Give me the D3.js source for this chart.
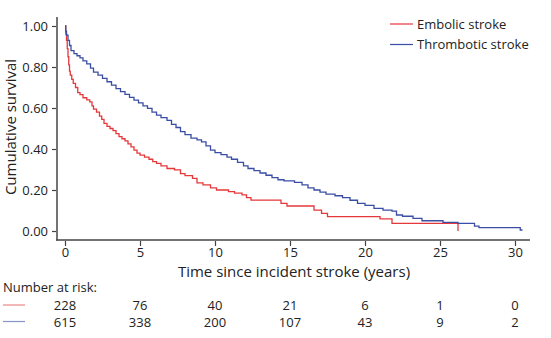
<!DOCTYPE html>
<meta charset="utf-8">
<script src="https://d3js.org/d3.v7.min.js"></script>
<style>
  body { margin: 0; background: #fff; }
  text { font-family: "Open Sans", "Noto Sans", sans-serif; fill: #222; }
</style>
<body>
<div id="km"></div>
<script>
// Kaplan-Meier survival after incident stroke, by stroke type
var groups = ["Embolic stroke", "Thrombotic stroke"]
var colors = ["#e5383b", "#3a4ea3"]

// step points: [years, cumulative survival]
var embolic = [
  [0, 1.0], [0.05, 0.96], [0.1, 0.93], [0.15, 0.89], [0.2, 0.85], [0.25, 0.81],
  [0.3, 0.78], [0.35, 0.76], [0.45, 0.74], [0.55, 0.72], [0.7, 0.70], [0.85, 0.675],
  [1.0, 0.665], [1.2, 0.65], [1.45, 0.64], [1.65, 0.63], [1.8, 0.61], [1.9, 0.595],
  [2.1, 0.58], [2.3, 0.56], [2.45, 0.545], [2.6, 0.525], [2.8, 0.51], [3.0, 0.50],
  [3.2, 0.49], [3.4, 0.475], [3.6, 0.46], [3.8, 0.45], [4.0, 0.44], [4.2, 0.425],
  [4.4, 0.41], [4.6, 0.395], [4.8, 0.38], [5.0, 0.37], [5.3, 0.36], [5.6, 0.35],
  [5.85, 0.338], [6.1, 0.33], [6.4, 0.318], [6.8, 0.305], [7.3, 0.298], [7.7, 0.28],
  [8.0, 0.27], [8.5, 0.257], [8.8, 0.235], [9.2, 0.225], [9.7, 0.21], [10.1, 0.2],
  [10.9, 0.192], [11.3, 0.185], [11.8, 0.176], [12.1, 0.163], [12.4, 0.151],
  [14.4, 0.135], [14.8, 0.122], [16.6, 0.102], [17.1, 0.086], [17.5, 0.07],
  [21.0, 0.059], [21.8, 0.037], [26.2, 0]
]
var thrombotic = [
  [0, 1.0], [0.05, 0.975], [0.1, 0.955], [0.2, 0.93], [0.3, 0.905], [0.4, 0.88],
  [0.6, 0.865], [0.8, 0.855], [1.0, 0.845], [1.2, 0.83], [1.45, 0.815], [1.7, 0.795],
  [1.9, 0.775], [2.2, 0.76], [2.5, 0.745], [2.8, 0.728], [3.1, 0.712], [3.4, 0.695],
  [3.7, 0.68], [4.0, 0.666], [4.3, 0.652], [4.6, 0.638], [4.9, 0.625], [5.2, 0.61],
  [5.5, 0.598], [5.8, 0.58], [6.1, 0.565], [6.4, 0.553], [6.8, 0.54], [7.1, 0.52],
  [7.4, 0.505], [7.7, 0.485], [8.0, 0.47], [8.4, 0.453], [8.8, 0.445], [9.1, 0.435],
  [9.4, 0.415], [9.7, 0.395], [10.0, 0.382], [10.4, 0.373], [10.8, 0.36], [11.1, 0.35],
  [11.5, 0.335], [11.9, 0.318], [12.2, 0.305], [12.6, 0.295], [13.0, 0.283], [13.4, 0.272],
  [13.8, 0.26], [14.2, 0.25], [14.6, 0.245], [15.3, 0.237], [15.8, 0.225], [16.2, 0.21],
  [16.6, 0.2], [17.0, 0.19], [17.4, 0.18], [18.0, 0.172], [18.5, 0.163], [19.0, 0.15],
  [19.5, 0.135], [20.0, 0.125], [20.6, 0.11], [21.2, 0.102], [21.8, 0.097], [22.1, 0.078],
  [22.5, 0.072], [23.2, 0.062], [23.8, 0.05], [25.2, 0.042], [26.2, 0.037], [27.3, 0.024],
  [27.6, 0.016], [30.35, 0.005], [30.5, 0.005]
]

var xTicks = [0, 5, 10, 15, 20, 25, 30]
var yTicks = [0, 0.2, 0.4, 0.6, 0.8, 1.0]
var riskEmbolic = [228, 76, 40, 21, 6, 1, 0]
var riskThrombotic = [615, 338, 200, 107, 43, 9, 2]

var width = 551, height = 338

var svg = d3.select("#km")
  .append("svg")
  .attr("width", width)
  .attr("height", height)

var x = d3.scaleLinear().domain([0, 30]).range([65, 515])
var y = d3.scaleLinear().domain([0, 1]).range([231, 26])

var axisY = 240, axisX = 57

// y axis
var gy = svg.append("g")
  .attr("transform", "translate(" + (axisX - 1) + ",0)")
  .call(d3.axisLeft(y).tickValues(yTicks).tickFormat(d3.format(".2f")).tickSize(4).tickPadding(4))
gy.select(".domain").remove()
gy.selectAll("line").attr("stroke", "#444").attr("stroke-width", 1.2)
gy.selectAll("text").style("font-size", "13px").attr("fill", "#222")

// x axis
var gx = svg.append("g")
  .attr("transform", "translate(0," + (axisY + 1) + ")")
  .call(d3.axisBottom(x).tickValues(xTicks).tickSize(5).tickPadding(2))
gx.select(".domain").remove()
gx.selectAll("line").attr("stroke", "#444").attr("stroke-width", 1.2)
gx.selectAll("text").style("font-size", "13px").attr("fill", "#222")

// axis lines
svg.append("line")
  .attr("x1", axisX).attr("x2", axisX)
  .attr("y1", 17).attr("y2", axisY + 0.75)
  .attr("stroke", "#444").attr("stroke-width", 1.5)
svg.append("line")
  .attr("x1", axisX - 0.75).attr("x2", 530)
  .attr("y1", axisY).attr("y2", axisY)
  .attr("stroke", "#444").attr("stroke-width", 1.5)

// axis titles
svg.append("text")
  .attr("x", 294).attr("y", 277)
  .attr("text-anchor", "middle")
  .style("font-size", "15px")
  .text("Time since incident stroke (years)")

svg.append("text")
  .attr("transform", "translate(16,127) rotate(-90)")
  .attr("text-anchor", "middle")
  .style("font-size", "15px")
  .text("Cumulative survival")

// survival curves
var line = d3.line()
  .x(function(d) { return x(d[0]) })
  .y(function(d) { return y(d[1]) })
  .curve(d3.curveStepAfter)

var series = [embolic, thrombotic]
series.forEach(function(s, i) {
  svg.append("path")
    .datum(s)
    .attr("fill", "none")
    .attr("stroke", colors[i])
    .attr("stroke-width", 1.3)
    .attr("d", line)
})

// legend
groups.forEach(function(g, i) {
  var ly = 24 + i * 20.5
  svg.append("line")
    .attr("x1", 390).attr("x2", 413)
    .attr("y1", ly).attr("y2", ly)
    .attr("stroke", colors[i]).attr("stroke-width", 1.2)
  svg.append("text")
    .attr("x", 417).attr("y", ly + 4.5)
    .style("font-size", "13px")
    .text(g)
})

// number at risk table
svg.append("text")
  .attr("x", 3).attr("y", 292)
  .style("font-size", "13px")
  .text("Number at risk:")

var risk = [riskEmbolic, riskThrombotic]
risk.forEach(function(r, i) {
  var ry = 310 + i * 16.5
  svg.append("line")
    .attr("x1", 3).attr("x2", 25)
    .attr("y1", ry - 5).attr("y2", ry - 5)
    .attr("stroke", colors[i]).attr("stroke-width", 1.2)
    .attr("opacity", 0.6)
  svg.selectAll(null)
    .data(r)
    .enter()
    .append("text")
    .attr("x", function(d, j) { return x(xTicks[j]) })
    .attr("y", ry)
    .attr("text-anchor", "middle")
    .style("font-size", "13px")
    .text(function(d) { return d })
})
</script>
</body>
